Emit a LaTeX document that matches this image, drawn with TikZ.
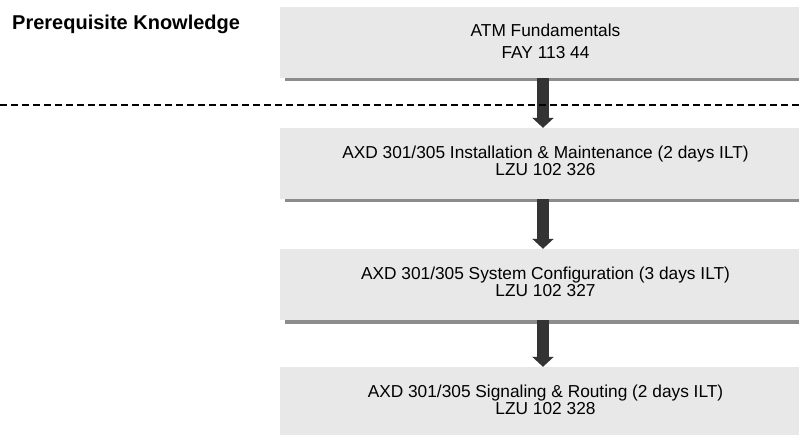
\documentclass[tikz,border=0pt]{standalone}
\usepackage{fontspec}
\setmainfont{Liberation Sans}
\usetikzlibrary{arrows.meta,shadows}
\definecolor{boxfill}{HTML}{E8E8E8}
\definecolor{shadowgray}{HTML}{8C8C8C}
\definecolor{arrowgray}{HTML}{333333}
\tikzset{
  coursebox/.style={rectangle, fill=boxfill, minimum width=531pt, minimum height=71pt, inner sep=0pt,
    drop shadow={shadow xshift=5pt, shadow yshift=-3.5pt, fill=shadowgray, opacity=1}},
  boxtext/.style={align=center, inner sep=0pt, font=\fontsize{17.3}{16.8}\selectfont},
  boxtextwide/.style={boxtext, font=\fontsize{17.3}{21.6}\selectfont},
  flowarrow/.style={draw=arrowgray, line width=12pt, -{Triangle[width=21pt,length=10pt,fill=arrowgray]}},
  dashline/.style={draw=black, line width=1.4pt, dash pattern=on 7pt off 4pt},
  titletext/.style={anchor=base west, inner sep=0pt, font=\fontsize{20}{22}\selectfont\bfseries}
}
\begin{document}
\begin{tikzpicture}[x=1pt,y=-1pt]
\clip (0,0) rectangle (799,435);
\fill[white] (0,0) rectangle (799,435);
\node[titletext] (title) at (12,29.5) {Prerequisite Knowledge};
\node[coursebox] (b1) at (545.5,42.5) {};
\node[coursebox] (b2) at (545.5,163.5) {};
\node[coursebox] (b3) at (545.5,284.5) {};
\node[coursebox] (b4) at (545.5,402.5) {};
\node[boxtextwide] (t1) at ([yshift=1.2pt]b1.center) {ATM Fundamentals\\FAY 113 44};
\node[boxtext] (t2) at ([yshift=3pt]b2.center) {AXD 301/305 Installation \& Maintenance (2 days ILT)\\LZU 102 326};
\node[boxtext] (t3) at ([yshift=3pt]b3.center) {AXD 301/305 System Configuration (3 days ILT)\\LZU 102 327};
\node[boxtext] (t4) at ([yshift=3pt]b4.center) {AXD 301/305 Signaling \& Routing (2 days ILT)\\LZU 102 328};
\draw[flowarrow] ([xshift=-2.5pt]b1.south) -- ([xshift=-2.5pt]b2.north);
\draw[flowarrow] ([xshift=-2.5pt]b2.south) -- ([xshift=-2.5pt]b3.north);
\draw[flowarrow] ([xshift=-2.5pt]b3.south) -- ([xshift=-2.5pt]b4.north);
\coordinate (dl) at (0,105);
\coordinate (dr) at (799,105);
\draw[dashline] (dl) -- (dr);
\end{tikzpicture}
\end{document}
